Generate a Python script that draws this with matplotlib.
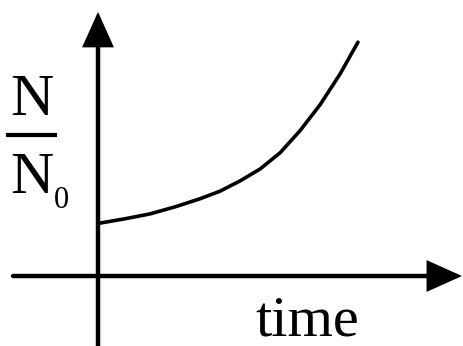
import numpy as np
import matplotlib
matplotlib.use("Agg")
import matplotlib.pyplot as plt

# curve (arbitrary units)
time = [0.08, 1.04, 2.0, 2.96, 3.92, 4.69, 5.46, 6.23, 7.0, 7.77, 8.54, 9.31, 10.0]
ratio = [0.98, 1.06, 1.15, 1.28, 1.43, 1.57, 1.76, 1.98, 2.28, 2.69, 3.17, 3.74, 4.33]

serif = ['Liberation Serif', 'DejaVu Serif']

fig = plt.figure(figsize=(4.63, 3.46), dpi=100)
ax = fig.add_axes([0, 0, 1, 1])
ax.set_xlim(-3.77, 14.04)
ax.set_ylim(-1.296, 5.111)
ax.axis('off')

# axes with arrow heads
arrow = dict(arrowstyle='-|>,head_length=1.0,head_width=0.45', lw=3.2,
             color='black', mutation_scale=20, shrinkA=0, shrinkB=0,
             joinstyle='miter')
ax.annotate('', xy=(14.0, 0), xytext=(-3.27, 0), arrowprops=arrow)
ax.annotate('', xy=(0, 4.89), xytext=(0, -1.4), arrowprops=arrow)

ax.plot(time, ratio, color='black', lw=2.6, solid_capstyle='round',
        solid_joinstyle='round')

# y label N / N0
ax.text(-2.54, 2.98, 'N', fontsize=43, family=serif, ha='center', va='baseline')
ax.plot([-3.46, -1.65], [2.61, 2.61], color='black', lw=3)
ax.text(-2.54, 1.537, 'N', fontsize=43, family=serif, ha='center', va='baseline')
ax.text(-1.69, 1.26, '0', fontsize=22, family=serif, ha='left', va='baseline')

ax.text(8.06, -1.1, 'time', fontsize=42, family=serif, ha='center', va='baseline')

fig.savefig('out.png', dpi=100)
